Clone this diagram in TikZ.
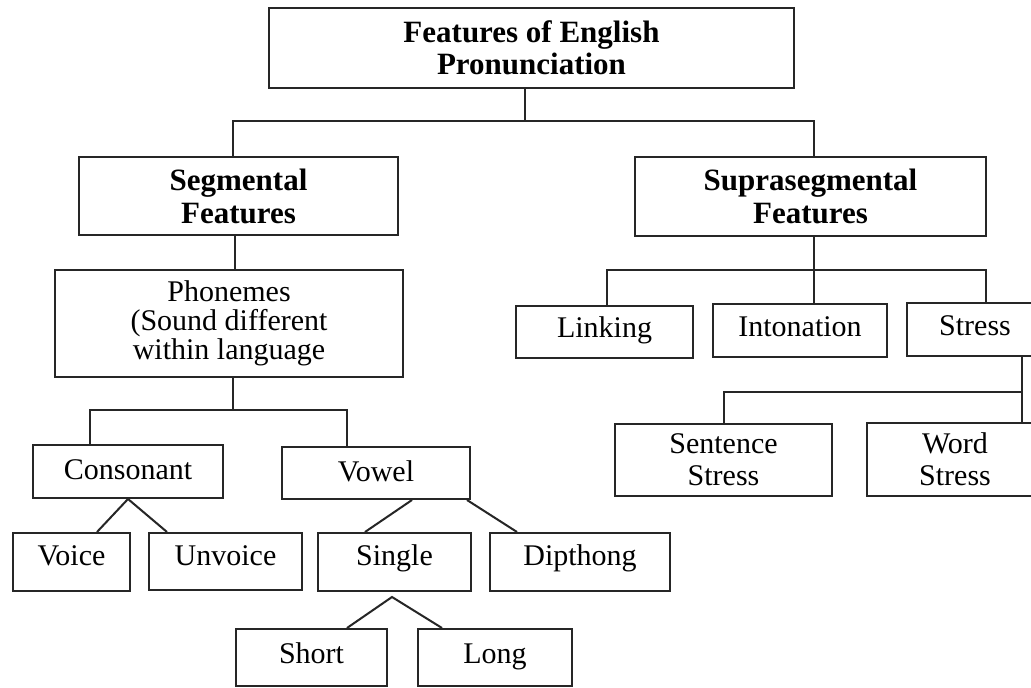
\documentclass[tikz,border=0pt]{standalone}
\usepackage{fontspec}
\setmainfont{Liberation Serif}
\begin{document}
\begin{tikzpicture}[x=0.5pt,y=-0.5pt,
  box/.style={draw=black!85, line width=1pt, inner sep=0pt, align=center,
              font=\fontsize{15}{14.5}\selectfont},
  headbox/.style={box, font=\fontsize{15.5}{16}\selectfont\bfseries},
  onerow/.style={box, text height=#1, text depth=3.5pt},
  onerow/.default=9.4pt,
  link/.style={draw=black!85, line width=1pt}]
\useasboundingbox (0,0) rectangle (1031,688);
\clip (0,0) rectangle (1031,688);
\fill[white] (0,0) rectangle (1031,688);

% main heading and the two branches
\node[headbox, minimum width=262.5pt, minimum height=40pt] (top) at (531.5,48)
  {Features of English\\Pronunciation};
\node[headbox, minimum width=159.5pt, minimum height=39pt,
      font=\fontsize{15.5}{16.5}\selectfont\bfseries] (seg) at (238.5,196)
  {Segmental\\Features};
\node[headbox, minimum width=175.5pt, minimum height=39.5pt,
      font=\fontsize{15.5}{16.5}\selectfont\bfseries] (supra) at (810.5,196.5)
  {Suprasegmental\\Features};

% segmental side
\node[box, minimum width=174pt, minimum height=53.5pt] (phon) at (229,323.5)
  {Phonemes\\(Sound different\\within language};
\node[onerow=12pt, minimum width=95pt, minimum height=26.5pt] (cons) at (128,471.5) {Consonant};
\node[onerow=12pt, minimum width=94pt, minimum height=26pt] (vowel) at (376,473) {Vowel};
\node[onerow=7.4pt, minimum width=58.5pt, minimum height=29pt] (voice) at (71.5,562) {Voice};
\node[onerow=7.4pt, minimum width=76.5pt, minimum height=28.5pt] (unvoice) at (225.5,561.5) {Unvoice};
\node[onerow=7.4pt, minimum width=76.5pt, minimum height=29pt] (single) at (394.5,562) {Single};
\node[onerow=7.4pt, minimum width=90pt, minimum height=29pt] (dip) at (580,562) {Dipthong};
\node[onerow, minimum width=75.5pt, minimum height=28.5pt] (short) at (311.5,657.5) {Short};
\node[onerow, minimum width=77pt, minimum height=28.5pt] (long) at (495,657.5) {Long};

% suprasegmental side
\node[onerow, minimum width=88.5pt, minimum height=26pt] (linking) at (604.5,332) {Linking};
\node[onerow, minimum width=87pt, minimum height=26.5pt] (inton) at (800,330.5) {Intonation};
\node[onerow, minimum width=68pt, minimum height=26.5pt] (stress) at (975,329.5) {Stress};
\node[box, minimum width=108.5pt, minimum height=36pt,
      font=\fontsize{15}{16}\selectfont] (sent) at (723.5,460) {Sentence\\Stress};
\node[box, minimum width=88pt, minimum height=36.5pt,
      font=\fontsize{15}{16}\selectfont] (word) at (955,459.5) {Word\\Stress};

% junction points of the bracket connectors
\coordinate (busA) at (525,121);
\coordinate (busC) at (233,410);
\coordinate (busS) at (814,270);
\coordinate (busW) at (1022,392);
\coordinate (sApex) at ([shift={(-1.25pt,-2.5pt)}]single.south);

% heading to branches
\draw[link] (top.south -| busA) -- (busA);
\draw[link] ([xshift=-2.75pt]seg.north) |- (busA) -| ([xshift=1.75pt]supra.north);

% segmental branch
\draw[link] ([xshift=-1.75pt]seg.south) -- ([xshift=-1.75pt]seg.south |- phon.north);
\draw[link] (phon.south -| busC) -- (busC);
\draw[link] ([xshift=-19pt]cons.north) |- (busC) -| ([xshift=-14.5pt]vowel.north);
\draw[link] ([xshift=12.75pt]voice.north) -- (cons.south) -- ([xshift=-29.25pt]unvoice.north);
\draw[link] ([xshift=18pt]vowel.south) -- ([xshift=-14.75pt]single.north);
\draw[link] ([xshift=45.5pt]vowel.south) -- ([xshift=-31.5pt]dip.north);
\draw[link] ([xshift=17.75pt]short.north) -- (sApex) -- ([xshift=-26.5pt]long.north);

% suprasegmental branch
\draw[link] (supra.south -| busS) -- (inton.north -| busS);
\draw[link] ([xshift=1.25pt]linking.north) |- (busS) -| ([xshift=5.5pt]stress.north);
\draw[link] (stress.south -| busW) -- (word.north -| busW);
\draw[link] (sent.north) |- (busW);
\end{tikzpicture}
\end{document}
